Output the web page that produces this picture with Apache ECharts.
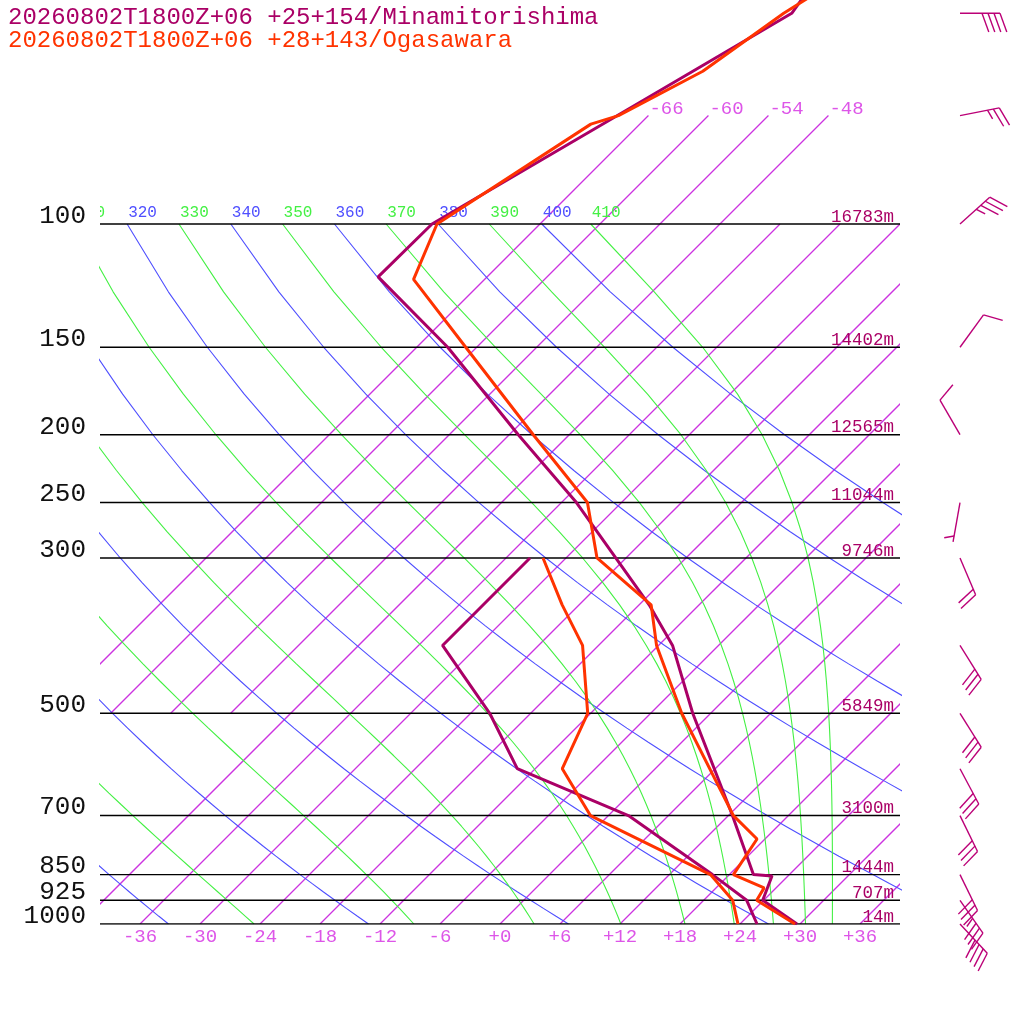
<!DOCTYPE html>
<html>
<head>
<meta charset="utf-8">
<title>Skew-T</title>
<script src="https://cdn.jsdelivr.net/npm/echarts@6.0.0/dist/echarts.min.js"></script>
<style>
html,body{margin:0;padding:0;background:#ffffff;}
#chart{width:1024px;height:1024px;}
</style>
</head>
<body>
<div id="chart"></div>
<script>
// ---------------- data ----------------
const titleMinami = '20260802T1800Z+06 +25+154/Minamitorishima';
const titleOgasa  = '20260802T1800Z+06 +28+143/Ogasawara';

const pressureLevels = [100, 150, 200, 250, 300, 500, 700, 850, 925, 1000];
const heightLabels   = ['16783m','14402m','12565m','11044m','9746m','5849m','3100m','1444m','707m','14m'];
const tempTicks      = [-36,-30,-24,-18,-12,-6,0,6,12,18,24,30,36];
const isothermsUpper = [-66,-60,-54,-48];
const isothermsLower = [-42,-36,-30,-24,-18,-12,-6,0,6,12,18,24,30,36];
const dryAdiabats    = [240,260,280,300,320,340,360,380,400];
const moistAdiabats  = [250,270,290,310,330,350,370,390,410];

const minamiTempP = [45,50,70,100,119,150,200,250,350,400,500,700,850,854,925,1000];
const minamiTemp  = [-62.8,-61.9,-69.1,-76.8,-76.9,-62.9,-47.1,-34.5,-17.0,-10.6,-1.8,12.4,20.4,22.4,23.9,29.7];
const minamiDewP  = [300,400,500,600,700,850,925,1000];
const minamiDew   = [-33.6,-33.6,-22.1,-13.8,2.0,16.3,22.3,25.7];

const ogasaTempP = [45,50,60.5,70,72,100,120,150,200,250,300,350,400,500,700,756,850,888,925,1000];
const ogasaTemp  = [-60.8,-62.7,-65.0,-69.0,-70.9,-76.3,-73.1,-61.1,-45.6,-33.4,-26.9,-16.8,-12.2,-2.9,12.5,17.2,18.4,22.8,23.3,29.5];
const ogasaDewP  = [300,350,400,500,600,700,850,925,1000];
const ogasaDew   = [-32.3,-25.7,-19.6,-12.3,-9.3,-1.8,16.1,20.9,23.8];

const windP   = [50,70,100,150,200,250,300,400,500,600,700,850,925,1000];
const windDir = [90,79,48,36,330,190,157,148,148,152,154,154,145,137];
const windKt  = [40,25,35,10,10,5,20,30,30,30,30,30,35,40];

// ---------------- diagram geometry ----------------
const SKEW = 70;                       // degC of skew per decade of pressure
const skewX = (T, p) => T + SKEW * Math.log10(1000 / p);
const P_TOP = 1000 / Math.pow(10, 924 / 700);
const X_MIN = -40, X_MAX = 40;

const C_MINAMI = '#aa0066', C_OGASA = '#ff3300';
const C_ISO = '#cc33e0', C_ISO_TXT = '#dd55e8';
const C_DRY = '#4f4fff', C_MOIST = '#44f044';
const C_BARB = '#bb0077';
const MONO = '"Liberation Mono","DejaVu Sans Mono",monospace';

// sampling pressures for adiabats
const curveP = [];
for (let p = 1000; p >= 100; p -= 25) curveP.push(p);

function esat(Tc) { return 6.112 * Math.exp(17.67 * Tc / (Tc + 243.5)); }
function thetaE(Tc, p) {
  const TK = Tc + 273.15, e = esat(Tc);
  if (e > 0.6 * p) return 1e9;
  const r = 0.622 * e / (p - e);
  return TK * Math.pow(1000 / p, 0.2854 * (1 - 0.28 * r)) *
         Math.exp((3.376 / TK - 0.00254) * r * 1000 * (1 + 0.81 * r));
}
function moistT(te, p) {
  let lo = -140, hi = 60;
  for (let i = 0; i < 60; i++) {
    const mid = (lo + hi) / 2;
    if (thetaE(mid, p) > te) hi = mid; else lo = mid;
  }
  return (lo + hi) / 2;
}
function dryT(th, p) { return th * Math.pow(p / 1000, 0.2854) - 273.15; }

function lineSeries(points, color, width, z) {
  return { type: 'line', data: points, symbol: 'none', showSymbol: false, clip: true,
           silent: true, z: z, animation: false, color: color,
           itemStyle: { color: color },
           lineStyle: { color: color, width: width, opacity: 1 },
           emphasis: { disabled: true } };
}
function textSeries(data, clip, build) {
  return { type: 'custom', coordinateSystem: 'cartesian2d', clip: clip, silent: true, z: 6,
    animation: false, data: data,
    renderItem: function (params, api) {
      const pt = api.coord([api.value(0), api.value(1)]);
      return build(pt, params.dataIndex);
    } };
}

const series = [];

// isotherms: [temperature, bottom pressure, top pressure]
const isoItems = isothermsLower.map(T => [T, 1000, 100]).concat(isothermsUpper.map(T => [T, 500, 70]));
series.push({
  type: 'custom', coordinateSystem: 'cartesian2d', clip: true, silent: true, z: 1, animation: false,
  encode: { x: 0, y: 1 },
  data: isoItems,
  renderItem: function (params, api) {
    const T = api.value(0), pb = api.value(1), pt = api.value(2);
    const a = api.coord([skewX(T, pb), pb]);
    const b = api.coord([skewX(T, pt), pt]);
    return { type: 'line', shape: { x1: a[0], y1: a[1], x2: b[0], y2: b[1] },
             style: { stroke: C_ISO, lineWidth: 1.3, opacity: 1 } };
  }
});

// dry adiabats
dryAdiabats.forEach(th => series.push(lineSeries(curveP.map(p => [skewX(dryT(th, p), p), p]), C_DRY, 1.1, 2)));
// pseudo adiabats
moistAdiabats.forEach(te => series.push(lineSeries(curveP.map(p => [skewX(moistT(te, p), p), p]), C_MOIST, 1.1, 2)));

// pressure lines
pressureLevels.forEach(p => series.push(lineSeries([[X_MIN, p], [X_MAX, p]], '#000000', 1.4, 5)));

// soundings
const prof = (ps, ts) => ps.map((p, i) => [skewX(ts[i], p), p]);
series.push(lineSeries(prof(minamiTempP, minamiTemp), C_MINAMI, 3, 7));
series.push(lineSeries(prof(minamiDewP, minamiDew), C_MINAMI, 3, 7));
series.push(lineSeries(prof(ogasaTempP, ogasaTemp), C_OGASA, 3, 8));
series.push(lineSeries(prof(ogasaDewP, ogasaDew), C_OGASA, 3, 8));

// adiabat labels at 100 hPa
const adLabels = [];
dryAdiabats.forEach(th => adLabels.push({ v: th, c: C_DRY, x: skewX(dryT(th, 100), 100) }));
moistAdiabats.forEach(te => adLabels.push({ v: te, c: C_MOIST, x: skewX(moistT(te, 100), 100) }));
series.push(textSeries(adLabels.map(a => [a.x, 100]), true, (pt, i) => ({
  type: 'text', x: pt[0] + 1, y: pt[1] - 3,
  style: { text: String(adLabels[i].v), fill: adLabels[i].c, font: '16px ' + MONO, align: 'left', verticalAlign: 'bottom' }
})));

// isotherm labels (top)
series.push(textSeries(isothermsUpper.map(T => [skewX(T, 70), 70]), false, (pt, i) => ({
  type: 'text', x: pt[0] + 1, y: pt[1] + 3,
  style: { text: String(isothermsUpper[i]), fill: C_ISO_TXT, font: '19px ' + MONO, align: 'left', verticalAlign: 'bottom' }
})));

// temperature ticks (bottom)
series.push(textSeries(tempTicks.map(T => [skewX(T, 1000), 1000]), false, (pt, i) => ({
  type: 'text', x: pt[0], y: pt[1] + 3,
  style: { text: (tempTicks[i] >= 0 ? '+' : '') + tempTicks[i], fill: C_ISO_TXT, font: '19px ' + MONO, align: 'center', verticalAlign: 'top' }
})));

// pressure labels (left)
series.push(textSeries(pressureLevels.map(p => [X_MIN, p]), false, (pt, i) => ({
  type: 'text', x: pt[0] - 14, y: pt[1] + 5,
  style: { text: String(pressureLevels[i]), fill: '#111111', font: '26px ' + MONO, align: 'right', verticalAlign: 'bottom' }
})));

// height labels (right)
series.push(textSeries(pressureLevels.map(p => [X_MAX, p]), false, (pt, i) => ({
  type: 'text', x: pt[0] - 6, y: pt[1] + 2,
  style: { text: heightLabels[i], fill: C_MINAMI, font: '17.5px ' + MONO, align: 'right', verticalAlign: 'bottom' }
})));

// wind barbs
series.push({
  type: 'custom', coordinateSystem: 'cartesian2d', clip: false, silent: true, z: 9, animation: false,
  encode: { x: 1, y: 0 },
  data: windP.map((p, i) => [p, windDir[i], windKt[i]]),
  renderItem: function (params, api) {
    const p = api.value(0), dir = api.value(1), spd = api.value(2);
    const base = api.coord([X_MAX, p]);
    const bx = base[0] + 60, by = base[1];
    const r = dir * Math.PI / 180;
    const s = [Math.sin(r), -Math.cos(r)];
    const n = [-s[1], s[0]];
    const L = 40;
    const tip = [bx + s[0] * L, by + s[1] * L];
    const fd = [0.34 * s[0] + 0.94 * n[0], 0.34 * s[1] + 0.94 * n[1]];
    const st = { stroke: C_BARB, lineWidth: 1.4 };
    const ch = [{ type: 'line', shape: { x1: bx, y1: by, x2: tip[0], y2: tip[1] }, style: st }];
    const full = Math.floor(spd / 10);
    const half = (spd % 10) >= 5 ? 1 : 0;
    let pos = (full === 0 && half) ? 6 : 0;
    for (let k = 0; k < full; k++) {
      const a = [tip[0] - s[0] * pos, tip[1] - s[1] * pos];
      ch.push({ type: 'line', shape: { x1: a[0], y1: a[1], x2: a[0] + fd[0] * 20, y2: a[1] + fd[1] * 20 }, style: st });
      pos += 6;
    }
    if (half) {
      const a = [tip[0] - s[0] * pos, tip[1] - s[1] * pos];
      ch.push({ type: 'line', shape: { x1: a[0], y1: a[1], x2: a[0] + fd[0] * 10, y2: a[1] + fd[1] * 10 }, style: st });
    }
    return { type: 'group', children: ch };
  }
});

const chart = echarts.init(document.getElementById('chart'), null, { renderer: 'canvas', width: 1024, height: 1024 });
chart.setOption({
  animation: false,
  backgroundColor: '#ffffff',
  grid: { left: 100, right: 124, top: 0, bottom: 100 },
  xAxis: { type: 'value', min: X_MIN, max: X_MAX, show: false },
  yAxis: { type: 'log', logBase: 10, min: P_TOP, max: 1000, inverse: true, show: false },
  graphic: [
    { type: 'text', x: 8, y: 30, style: { text: titleMinami, fill: C_MINAMI, font: '24px ' + MONO, verticalAlign: 'bottom' } },
    { type: 'text', x: 8, y: 53, style: { text: titleOgasa, fill: C_OGASA, font: '24px ' + MONO, verticalAlign: 'bottom' } }
  ],
  series: series
});
</script>
</body>
</html>
